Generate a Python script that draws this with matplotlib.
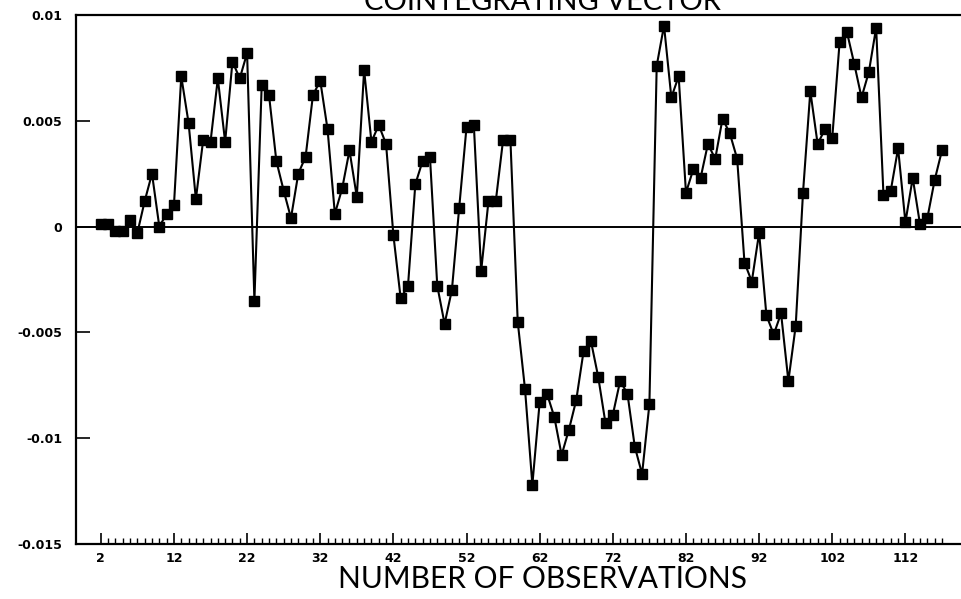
# cointegrating vector plot

import numpy as np
from matplotlib import pyplot as plt

obs = np.arange(2, 118)
vec = [0.0001, 0.0001, -0.0002, -0.0002, 0.0003, -0.0003, 0.0012, 0.0025, 0.0000, 0.0006,
       0.0010, 0.0071, 0.0049, 0.0013, 0.0041, 0.0040, 0.0070, 0.0040, 0.0078, 0.0070,
       0.0082, -0.0035, 0.0067, 0.0062, 0.0031, 0.0017, 0.0004, 0.0025, 0.0033, 0.0062,
       0.0069, 0.0046, 0.0006, 0.0018, 0.0036, 0.0014, 0.0074, 0.0040, 0.0048, 0.0039,
       -0.0004, -0.0034, -0.0028, 0.0020, 0.0031, 0.0033, -0.0028, -0.0046, -0.0030, 0.0009,
       0.0047, 0.0048, -0.0021, 0.0012, 0.0012, 0.0041, 0.0041, -0.0045, -0.0077, -0.0122,
       -0.0083, -0.0079, -0.0090, -0.0108, -0.0096, -0.0082, -0.0059, -0.0054, -0.0071, -0.0093,
       -0.0089, -0.0073, -0.0079, -0.0104, -0.0117, -0.0084, 0.0076, 0.0095, 0.0061, 0.0071,
       0.0016, 0.0027, 0.0023, 0.0039, 0.0032, 0.0051, 0.0044, 0.0032, -0.0017, -0.0026,
       -0.0003, -0.0042, -0.0051, -0.0041, -0.0073, -0.0047, 0.0016, 0.0064, 0.0039, 0.0046,
       0.0042, 0.0087, 0.0092, 0.0077, 0.0061, 0.0073, 0.0094, 0.0015, 0.0017, 0.0037,
       0.0002, 0.0023, 0.0001, 0.0004, 0.0022, 0.0036]

yticks = [0.01, 0.005, 0, -0.005, -0.01, -0.015]
ylabels = ['0.01', '0.005', '0', '-0.005', '-0.01', '-0.015']
xticks = list(range(2, 113, 10))

fig = plt.figure(figsize=(9.61, 5.99), dpi=100)
ax = fig.add_axes([0.079, 0.092, 0.921, 0.883])

ax.axhline(0, color='black', lw=1.4, zorder=1)
ax.plot(obs, vec, color='black', lw=1.5, marker='s', markersize=7.5,
        markerfacecolor='black', markeredgecolor='black', zorder=2)

ax.set_xlim(-1.4, 119.6)
ax.set_ylim(-0.015, 0.01)

ax.set_yticks(yticks)
ax.set_yticklabels(ylabels, fontsize=9, fontweight='bold')
ax.set_xticks(xticks)
ax.set_xticklabels([str(t) for t in xticks], fontsize=9, fontweight='bold')
ax.set_xticks(range(2, 118), minor=True)

ax.tick_params(axis='y', direction='in', length=10, width=1.2, pad=10, right=False)
ax.tick_params(axis='x', which='major', direction='in', length=8, width=1.2, pad=6)
ax.tick_params(axis='x', which='minor', direction='in', length=4, width=1.0)

for s in ['left', 'top', 'bottom']:
    ax.spines[s].set_linewidth(1.6)
ax.spines['right'].set_visible(False)

fig.text(0.564, 0.034, 'NUMBER OF OBSERVATIONS', ha='center', va='center',
         fontsize=21.5, family='Lato')
# title sits at the very top edge, mostly cut off like in the scan
fig.text(0.564, 0.997, 'COINTEGRATING VECTOR', ha='center', va='center',
         fontsize=21, family='Lato')

plt.savefig('out.png', dpi=100)
